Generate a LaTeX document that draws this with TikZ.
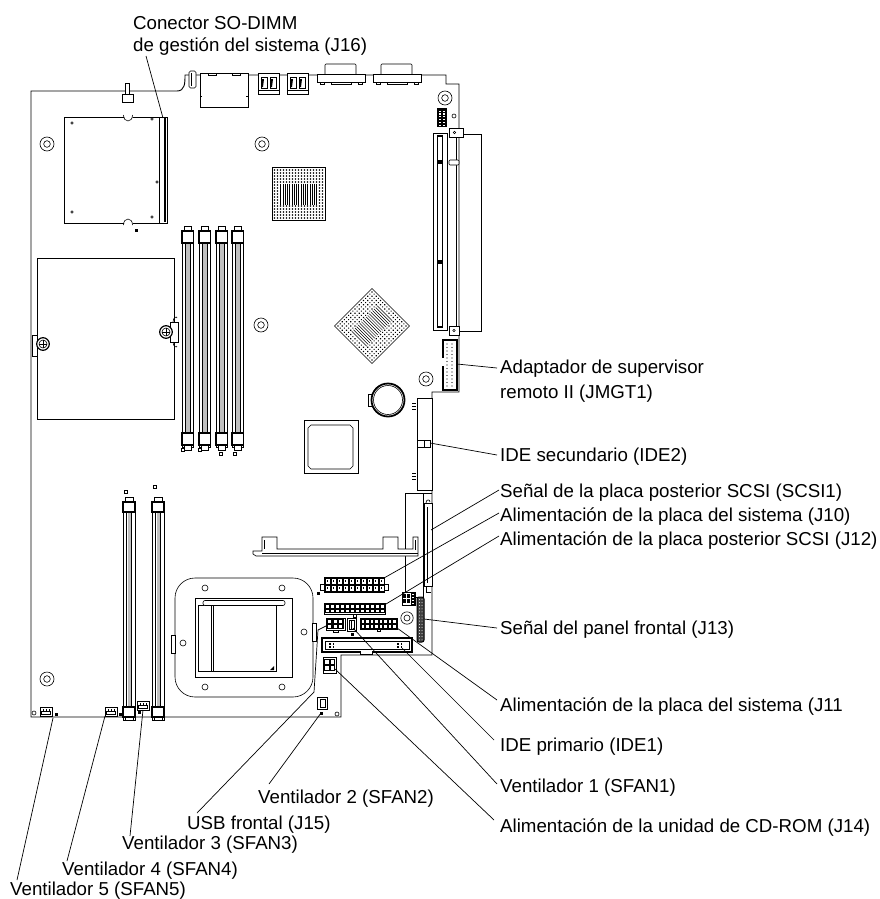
\documentclass[tikz,border=0pt]{standalone}
\usepackage{fontspec}
\setmainfont{Liberation Sans}
\newcommand\lbfont{\fontsize{18.7}{24}\selectfont}
\newcommand\bgachip{%
  \draw[line width=0.6pt,fill=white] (-26.5,-26.5) rectangle (26.5,26.5);
  \foreach \j in {0,...,4,12,13,14,15,16}{\foreach \i in {0,...,16}{\fill (-24+3*\i,-24+3*\j) circle (0.8);}}
  \foreach \j in {5,...,11}{\foreach \i in {0,1,15,16}{\fill (-24+3*\i,-24+3*\j) circle (0.8);}}
  \foreach \k in {0,...,16}{\draw[line width=0.5pt] (-18+2.25*\k,-10.5) -- (-18+2.25*\k,10.5);}
}
\tikzset{
  bd/.style={line width=0.9pt},
  ln/.style={line width=0.6pt},
  thk/.style={line width=1.3pt},
  lead/.style={line width=0.7pt},
  lbl/.style={anchor=base west,inner sep=0pt,font=\lbfont},
  hole/.style={line width=0.6pt},
  pinsq/.style={line width=0.5pt},
}
\begin{document}
\begin{tikzpicture}[x=1pt,y=-1pt]
\useasboundingbox (0,0) rectangle (880,899);
\fill[white] (0,0) rectangle (880,899);

% ---------------- board outline
\draw[bd] (31,91) -- (177,91) .. controls (185,91) and (185,83) .. (185,75) -- (446,75) -- (446,84) -- (459,84) -- (459,392) -- (432,392) -- (432,655) -- (341,655) -- (341,717) -- (31,717) -- cycle;

% ---------------- top connectors
\draw[ln,fill=white,rounded corners=1.5pt] (189,71) rectangle (196,88);
\draw[ln] (191,73) -- (191,86);
\draw[ln,fill=white] (200,73) rectangle (248,107);
\draw[ln] (208,73) -- (208,75) -- (216,75) -- (216,73);
\draw[ln] (232,73) -- (232,75) -- (240,75) -- (240,73);
\draw[ln] (200,96) -- (202,96); \draw[ln] (246,96) -- (248,96);
\foreach \u in {258,287}{
  \draw[ln,fill=white] (\u,73) rectangle (\u+21,94);
  \draw[ln] (\u+3,77) -- (\u+9,77) -- (\u+9,88) -- (\u+3,88) -- cycle;
  \draw[ln] (\u+12,77) -- (\u+18,77) -- (\u+18,88) -- (\u+12,88) -- cycle;
  \fill (\u+4,79) -- (\u+6,79) -- (\u+5,87) -- (\u+4,87) -- cycle;
  \fill (\u+13,79) -- (\u+15,79) -- (\u+14,87) -- (\u+13,87) -- cycle;
  \draw[ln] (\u,90) -- (\u+21,90);
}
\foreach \s in {317,373}{
  \draw[ln,fill=white,rounded corners=1pt] (\s+8,64) rectangle (\s+39,75);
  \draw[ln,fill=white] (\s,74) rectangle (\s+48,82);
  \draw[ln] (\s+14,82) -- (\s+14,84) -- (\s+34,84) -- (\s+34,82);
  \draw[ln] (\s+3,82) -- (\s+3,84) -- (\s+7,84) -- (\s+7,82);
  \draw[ln] (\s+41,82) -- (\s+41,84) -- (\s+45,84) -- (\s+45,82);
}
% small tower on left top
\draw[ln,fill=white] (125,83) rectangle (129,94);
\draw[ln,fill=white] (122,94) rectangle (133,102);

% ---------------- mounting holes
\foreach \p in {(47,144),(262,144),(261,325),(426,379),(47,679),(445,98)}{
  \draw[hole] \p circle (7); \draw[hole] \p circle (3.3);
}
\foreach \p in {(454,116),(34,713),(337,714)}{\draw[hole] \p circle (2);}

% top right header (black)
\fill (437,108) rectangle (447,127);
\foreach \j in {0,...,5}{\fill[white] (439,110.5+2.8*\j) rectangle (441,111.8+2.8*\j); \fill[white] (443,110.5+2.8*\j) rectangle (445,111.8+2.8*\j);}

% ---------------- PCI slot and riser
\draw[ln] (433,133) rectangle (447,330);
\draw[line width=1.3pt] (437.5,136) rectangle (442.5,327);
\fill (438,160) rectangle (442,164); \fill (438,260) rectangle (442,264);
\draw[ln] (459,134) -- (481,134) -- (481,331) -- (459,331);
\draw[ln] (456.5,137) -- (456.5,326);
\draw[ln,fill=white] (449,128) rectangle (463,137); \draw[ln] (454.5,132.5) circle (1.3);
\draw[ln,fill=white] (449,326) rectangle (459,335); \draw[ln] (454,330.5) circle (1.3);
\draw[ln,fill=white,rounded corners=1pt] (449,160) rectangle (459,165);

% ---------------- SO-DIMM (J16)
\draw[ln,fill=white] (64,117) rectangle (159,223);
\draw[ln] (159,117) rectangle (167,223);
\draw[line width=1.6pt] (165,118) -- (165,222);
\draw[ln,fill=white] (123.5,115) .. controls (123.5,123) and (132.5,123) .. (132.5,115);
\draw[ln,fill=white] (123.5,225) .. controls (123.5,217) and (132.5,217) .. (132.5,225);
\foreach \p in {(72,123),(152,119),(72,212),(152,217),(157,182)}{\draw[ln] \p circle (1.2);}
\fill (134.5,228.5) rectangle (137.5,231.5);

% ---------------- north bridge BGA
\begin{scope}[shift={(298.5,194)}]\bgachip\end{scope}
% ---------------- diamond BGA
\begin{scope}[shift={(372,326)},rotate=45]\bgachip\end{scope}

% ---------------- upper DIMMs
\foreach \a in {182,199,216,232}{
  \draw[ln] (\a,231) rectangle (\a+11.5,447);
  \fill[black!25] (\a+4,243) rectangle (\a+7.5,433);
  \draw[ln] (\a+3,243) -- (\a+3,433); \draw[ln] (\a+8.5,243) -- (\a+8.5,433);
  \draw[ln,fill=white] (\a+2,226) rectangle (\a+9.5,231);
  \draw[line width=1.1pt,fill=white] (\a,231) rectangle (\a+11.5,243);
  \draw[line width=1.1pt,fill=white] (\a,433) rectangle (\a+11.5,445);
  \draw[ln,fill=white] (\a+2,445) rectangle (\a+9.5,450);
}
\foreach \p in {(181,448),(198,448),(219,452),(233,452)}{\draw[ln] \p rectangle +(3,3);}

% ---------------- large module with screws
\draw[ln] (37,258) rectangle (174,419);
\draw[ln,fill=white] (32,335) rectangle (37.5,356);
\draw[ln,fill=white] (170,322) rectangle (178,342);
\draw[ln] (173,322) .. controls (173,317) and (177,316) .. (177,318);
\draw[ln] (173,342) .. controls (173,347) and (177,348) .. (177,346);
\foreach \p in {(43,344),(166,332)}{
  \draw[line width=1.2pt,fill=white] \p circle (6.3);
  \draw[ln] \p circle (4);
  \draw[ln] \p ++(-4,0) -- ++(8,0); \draw[ln] \p ++(0,-4) -- ++(0,8);
}

% ---------------- battery
\draw[ln,fill=white] (368,394) rectangle (373,406);
\draw[line width=1.8pt,fill=white] (388,400) circle (16.5);
\draw[ln] (388,400) circle (14.5);

% ---------------- south bridge
\draw[ln] (304,420) rectangle (358,473);
\draw[ln] (311,425) -- (350,425) -- (353,428) -- (353,466) -- (350,469) -- (311,469) -- (308,466) -- (308,428) -- cycle;

% ---------------- JMGT1
\draw[line width=1.4pt,fill=white] (443,340) rectangle (457,390);
\foreach \j in {0,...,12}{\fill (447,344+3.5*\j) circle (0.6); \fill (452,344+3.5*\j) circle (0.6);}
\fill[white] (442,358) rectangle (444.2,366);

% ---------------- IDE2
\draw[ln,fill=white] (417,398) rectangle (432,490);
\draw[ln] (417,440) rectangle (430,447); \draw[ln] (424,440) -- (424,447);
\foreach \y in {403,406,409,473,476,479}{\draw[ln] (412,\y) -- (416,\y);}

% ---------------- SCSI1
\draw[ln] (405,493) rectangle (423,597);
\draw[ln] (405,493) -- (432,493);
\draw[ln,fill=white] (424,503) rectangle (432,586);
\draw[ln] (427,507) -- (427,583);
\draw[ln] (426,503) .. controls (426,499) and (430,499) .. (430,502);
\draw[ln] (426,586) -- (426,592) -- (431,592);

% ---------------- CPU bracket
\draw[ln,fill=white] (253,551) -- (262,551) -- (262,537) -- (277,537) -- (277,549) -- (383,549) -- (383,537) -- (398,537) -- (398,549) -- (413,549) -- (413,537) -- (418,537) -- (418,556) -- (256,556) -- (253,554) -- cycle;
\draw[ln] (262,553) -- (418,553);
\draw[ln] (264,540) -- (264,549); \draw[ln] (415,540) -- (415,550);

% ---------------- CPU socket
\draw[ln,rounded corners=20pt] (175,578) rectangle (313,697);
\draw[ln,fill=white] (171,635) rectangle (175.5,653);
\draw[ln,fill=white] (312.5,623) rectangle (316,641);
\foreach \p in {(205,588),(282,588),(205,687),(282,687),(183,643),(304,632)}{\draw[ln] \p circle (3);}
\draw[ln] (195,598) rectangle (292,677);
\draw[ln] (198,605) rectangle (276,671);
\draw[ln] (211,605) -- (211,671); \draw[ln] (213,605) -- (213,671);
\draw[ln,fill=white,rounded corners=2pt] (203,600.5) rectangle (285,605.5);
\fill (274,666) -- (274,670) -- (270,670) -- cycle;

% ---------------- J10
\draw[ln,fill=white] (320,584) rectangle (388,590);
\draw[ln,fill=white] (324,577) rectangle (384,592);
\foreach \i in {0,...,9}{
  \draw[pinsq] (325+6*\i,578.5) rectangle +(4.8,5.5);
  \draw[pinsq] (325+6*\i,585.5) rectangle +(4.8,5.5);
  \fill (326.6+6*\i,580.3) rectangle +(1.6,1.6);
  \fill (326.6+6*\i,587.3) rectangle +(1.6,1.6);
}
\fill (316.5,592) rectangle (319.5,595);
% ---------------- J12
\draw[line width=0.9pt,fill=white] (324,603) rectangle (385,614);
\foreach \i in {0,...,11}{
  \draw[line width=0.8pt] (325+5*\i,604.5) rectangle +(4,3.8);
  \draw[line width=0.8pt] (325+5*\i,609) rectangle +(4,3.8);
}
\draw[ln] (353,614) rectangle (356,617);
% ---------------- J15 (front USB)
\draw[ln,fill=white] (326,618) rectangle (345,630);
\foreach \i in {0,1,2}{\foreach \j in {0,1}{\draw[line width=1.1pt] (327.5+5.5*\i,619.5+5*\j) rectangle +(4.5,4);}}
\draw[ln] (333,630) rectangle (338,632);
% ---------------- SFAN1
\draw[ln,fill=white] (347,618) rectangle (356,631);
\draw[ln] (349,620) rectangle (354,629);
\draw[ln] (351,620) -- (351,629);
\fill (350.5,633) rectangle (353.5,636);
% ---------------- J11
\draw[ln,fill=white] (360,618) rectangle (397,629);
\foreach \i in {0,...,7}{
  \draw[line width=0.8pt] (361+4.5*\i,619.3) rectangle +(3.7,4);
  \draw[line width=0.8pt] (361+4.5*\i,624) rectangle +(3.7,4);
}
\draw[ln] (377,629) rectangle (380,631);
% ---------------- IDE1
\draw[line width=1.8pt,fill=white] (322,638) rectangle (412,652);
\draw[ln] (325,641) rectangle (409,649);
\fill[white] (360,650) rectangle (372,653.5);
\draw[ln] (360,651) -- (360,654) -- (372,654) -- (372,651);
\foreach \q in {329,397}{\foreach \i in {0,1}{\foreach \j in {0,1}{\fill (\q+3.5*\i,643+3*\j) rectangle +(1.6,1.6);}}}
% ---------------- J14
\draw[ln,fill=white] (323,657) rectangle (336,673);
\foreach \i in {0,1}{\foreach \j in {0,1}{\draw[line width=1pt] (324.5+5.5*\i,659+6.5*\j) rectangle +(4.5,5);}}
% ---------------- SFAN2
\draw[ln,fill=white] (317,697) rectangle (327,709);
\draw[line width=1pt] (320,699) rectangle (325.5,707.5);
\fill (319.5,711.5) rectangle (322.5,714.5);
% ---------------- jumper block
\draw[ln,fill=white] (402,592) rectangle (415,605);
\foreach \i in {0,1}{\foreach \j in {0,1}{\fill (403+4*\i,593.5+5.5*\j) rectangle +(3,4);}}
\foreach \j in {0,...,3}{\draw[pinsq] (411.5,593+3*\j) rectangle +(2.5,2.5);}
% ---------------- J13
\draw[line width=1pt,fill=black!75,rounded corners=2pt] (417,597) rectangle (424,642);
\foreach \j in {0,...,13}{\fill[white] (419.5,599.5+3.1*\j) circle (0.5); \fill[white] (422,599.5+3.1*\j) circle (0.5);}
\draw[hole] (407,618) circle (6.2); \draw[hole] (407,618) circle (3);

% ---------------- lower DIMMs
\foreach \a in {123,152}{
  \draw[ln] (\a,502) rectangle (\a+12,720);
  \fill[black!25] (\a+4.5,512) rectangle (\a+7.5,707);
  \draw[ln] (\a+3.5,512) -- (\a+3.5,707); \draw[ln] (\a+8.5,512) -- (\a+8.5,707);
  \draw[ln,fill=white] (\a+2,497) rectangle (\a+10,502);
  \draw[line width=1.1pt,fill=white] (\a,502) rectangle (\a+12,512);
  \draw[line width=1.1pt,fill=white] (\a,707) rectangle (\a+12,717);
  \draw[ln,fill=white] (\a+2,717) rectangle (\a+10,720);
}
\draw[ln] (124,490.5) rectangle +(3,3); \draw[ln] (153,485.5) rectangle +(3,3);

% ---------------- fan connectors
\foreach \p/\q in {40/707,105/707,137/701}{
  \draw[ln,fill=white] (\p,\q) rectangle (\p+12,\q+9);
  \draw[ln] (\p+1.5,\q+4) rectangle (\p+10.5,\q+7.5);
  \foreach \k in {0,1,2}{\fill (\p+2.5+3*\k,\q+1.8) rectangle +(1.5,2);}
}
\fill (54.5,712.5) rectangle (57.5,715.5);
\fill (118.5,712.5) rectangle (121.5,715.5);
\fill (137.5,710.5) rectangle (140.5,713.5);

% ---------------- labels
\node[lbl] (tSodA) at (133,30) {Conector SO-DIMM};
\node[lbl] (tSodB) at (133,52) {de gestión del sistema (J16)};
\node[lbl] (tJmgA) at (500,373) {Adaptador de supervisor};
\node[lbl] (tJmgB) at (500,398) {remoto II (JMGT1)};
\node[lbl] (tIde2) at (500,461) {IDE secundario (IDE2)};
\node[lbl] (tScsi) at (500,497) {Señal de la placa posterior SCSI (SCSI1)};
\node[lbl] (tJ10) at (500,521) {Alimentación de la placa del sistema (J10)};
\node[lbl] (tJ12) at (500,545) {Alimentación de la placa posterior SCSI (J12)};
\node[lbl] (tJ13) at (500,634) {Señal del panel frontal (J13)};
\node[lbl] (tJ11) at (500,711) {Alimentación de la placa del sistema (J11};
\node[lbl] (tIde1) at (500,751) {IDE primario (IDE1)};
\node[lbl] (tSf1) at (500,792) {Ventilador 1 (SFAN1)};
\node[lbl] (tJ14) at (500,832) {Alimentación de la unidad de CD-ROM (J14)};
\node[lbl] (tSf2) at (258,803) {Ventilador 2 (SFAN2)};
\node[lbl] (tUsb) at (187,829) {USB frontal (J15)};
\node[lbl] (tSf3) at (122,849) {Ventilador 3 (SFAN3)};
\node[lbl] (tSf4) at (62,875) {Ventilador 4 (SFAN4)};
\node[lbl] (tSf5) at (10,895) {Ventilador 5 (SFAN5)};

% ---------------- leader lines
\coordinate (pSod) at (163,118);  \coordinate (eSod) at (146,56);
\coordinate (pJmg) at (457,364);  \coordinate (eJmg) at (497,368);
\coordinate (pIde2) at (430,443); \coordinate (eIde2) at (497,455);
\coordinate (pScsi) at (431,530); \coordinate (eScsi) at (499,490);
\coordinate (pJ10) at (384,578);  \coordinate (eJ10) at (499,513);
\coordinate (pJ12) at (386,604);  \coordinate (eJ12) at (499,536);
\coordinate (pJ13) at (424,619);  \coordinate (eJ13) at (497,628);
\coordinate (pJ11) at (397,628);  \coordinate (eJ11) at (497,700);
\coordinate (pIde1) at (402,648); \coordinate (eIde1) at (494,740);
\coordinate (pSf1) at (353,628);  \coordinate (eSf1) at (497,784);
\coordinate (pJ14) at (335,669);  \coordinate (eJ14) at (494,820);
\coordinate (pSf2) at (321,713);  \coordinate (eSf2) at (269,784);
\coordinate (pUsb) at (326,626);  \coordinate (bUsb1) at (318,630); \coordinate (bUsb2) at (314,692); \coordinate (eUsb) at (197,813);
\coordinate (pSf3) at (143,710);  \coordinate (eSf3) at (130,836);
\coordinate (pSf4) at (105,716);  \coordinate (eSf4) at (67,861);
\coordinate (pSf5) at (53,718);   \coordinate (eSf5) at (17,880);
\foreach \a/\b in {pSod/eSod,pJmg/eJmg,pIde2/eIde2,pScsi/eScsi,pJ10/eJ10,pJ12/eJ12,pJ13/eJ13,pJ11/eJ11,pIde1/eIde1,pSf1/eSf1,pJ14/eJ14,pSf2/eSf2,pSf3/eSf3,pSf4/eSf4,pSf5/eSf5}{\draw[lead] (\a) -- (\b);}
\draw[lead] (pUsb) -- (bUsb1) -- (bUsb2) -- (eUsb);
\end{tikzpicture}
\end{document}
